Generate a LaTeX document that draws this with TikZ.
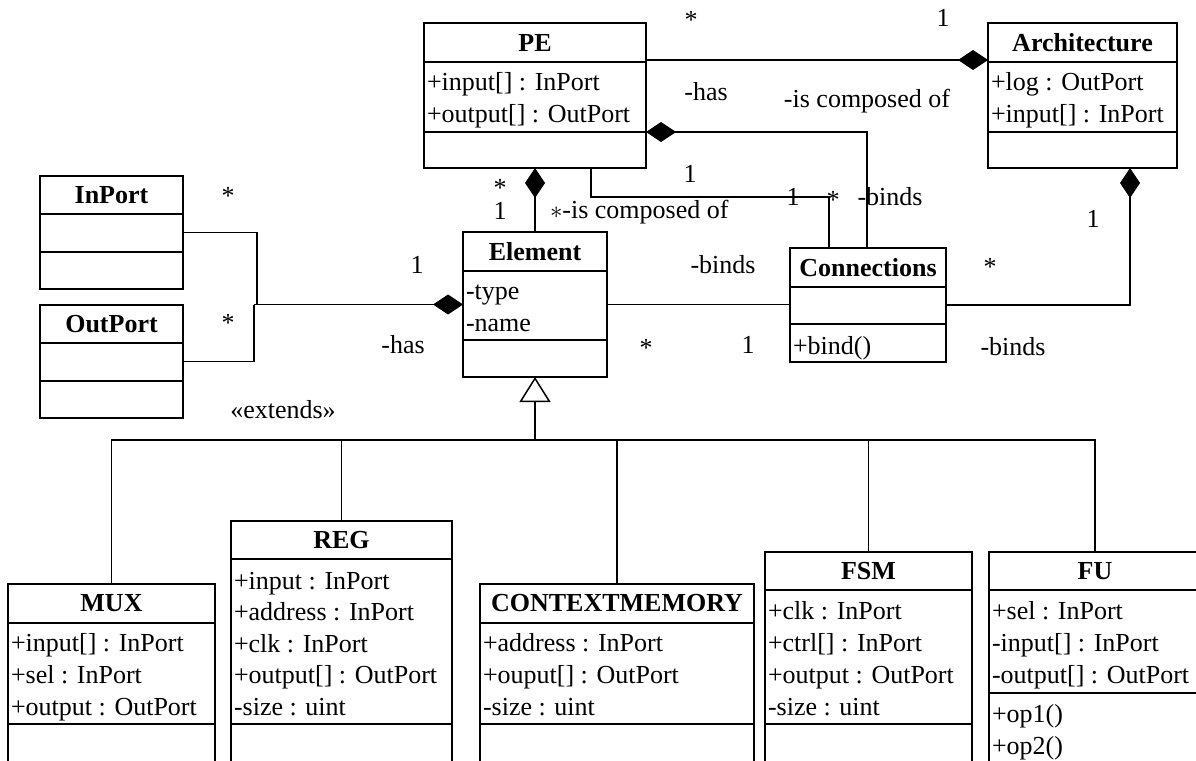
\documentclass[tikz,border=0pt]{standalone}
\usepackage{fontspec}
\setmainfont{Liberation Serif}
\usetikzlibrary{arrows.meta}

% class box: name, x, y, width, height, title divider, member divider, title
\newcommand\umlclass[8]{%
  \node[classbox, minimum width=#4pt, minimum height=#5pt] (#1) at (#2,#3) {};
  \draw[divider] (#1.north west) ++(0,#6) -- ++(#4,0);
  \draw[divider] (#1.north west) ++(0,#7) -- ++(#4,0);
  \path (#1.north) ++(0,#6/2) node[classtitle] {#8};
}
% list of members: x, first baseline, line spacing, entries
\newcommand\umlmembers[4]{%
  \foreach \m [count=\i from 0] in {#4} {\node[member] at (#1,#2+\i*#3) {\m};}
}

\begin{document}
\begin{tikzpicture}[x=1pt,y=-1pt,
  every node/.style={font=\fontsize{26}{32}\selectfont, inner sep=0pt, outer sep=0pt},
  classbox/.style={draw, line width=1.6pt, anchor=north west},
  divider/.style={line width=1.6pt},
  classtitle/.style={font=\fontsize{26}{32}\selectfont\bfseries},
  member/.style={anchor=base west},
  lbl/.style={anchor=base},
  assoc/.style={line width=1.1pt},
  comp/.style={assoc, -{Diamond[length=30pt,width=20pt]}},
  inherit/.style={assoc, -{Triangle[open,length=25pt,width=31pt,line width=1.5pt]}},
]
\useasboundingbox (0,0) rectangle (1196,760);
\clip (0,0) rectangle (1196,760);

% ---- classes ----
\umlclass{PE}{424}{23}{222}{145}{39}{109}{PE}
\umlmembers{427}{90}{32}{+input[] : InPort, +output[] : OutPort}

\umlclass{arch}{988}{23}{189}{145}{39}{109}{Architecture}
\umlmembers{991}{90}{32}{+log : OutPort, +input[] : InPort}

\umlclass{inport}{40}{176}{143}{113}{38}{76}{InPort}
\umlclass{outport}{40}{305}{143}{113}{38}{76}{OutPort}

\umlclass{element}{463}{232}{144}{145}{39}{108}{Element}
\umlmembers{466}{299}{32}{-type, -name}

\umlclass{conn}{790}{248}{156}{114}{39}{76}{Connections}
\umlmembers{793}{354}{32}{+bind()}

\umlclass{mux}{8}{584}{207}{220}{39}{140}{MUX}
\umlmembers{11}{651}{32}{+input[] : InPort, +sel : InPort, +output : OutPort}

\umlclass{reg}{231}{521}{221}{280}{38}{203}{REG}
\umlmembers{234}{589}{31.5}{+input : InPort, +address : InPort, +clk : InPort, +output[] : OutPort, -size : uint}

\umlclass{ctxmem}{480}{584}{274}{220}{39}{140}{CONTEXTMEMORY}
\umlmembers{483}{651}{32}{+address : InPort, +ouput[] : OutPort, -size : uint}

\umlclass{fsm}{765}{552}{207}{250}{38}{172}{FSM}
\umlmembers{768}{619}{32}{+clk : InPort, +ctrl[] : InPort, +output : OutPort, -size : uint}

\umlclass{fu}{989}{552}{212}{250}{38}{141}{FU}
\umlmembers{992}{619}{32}{+sel : InPort, -input[] : InPort, -output[] : OutPort}
\umlmembers{992}{722}{32}{+op1(), +op2()}

% ---- connector end points ----
\coordinate (peA)   at (646,60);
\coordinate (peC)   at (646,132);
\coordinate (peB)   at (591,168);
\coordinate (connA) at (867,248);
\coordinate (connB) at (829,248);
\coordinate (archB) at (1130,168);
\coordinate (hasIn)  at (257,304.5);
\coordinate (hasOut) at (254,304.5);
\coordinate (tree)  at (535,440);

% ---- compositions and associations ----
\draw[comp] (peA) -- (arch.west |- peA);
\draw[comp] (connA) |- (peC);
\draw[assoc] (peB) -- ++(0,29) -| (connB);
\draw[comp] (element.north) -- (PE.south);
\draw[assoc] (inport.east) -| (hasIn);
\draw[assoc] (outport.east) -| (hasOut);
\draw[comp] (hasOut) -- (element.west);
\draw[assoc] (element.east) -- (conn.west |- element.east);
\draw[comp] (conn.east) -| (archB);

% ---- generalisation tree ----
\draw[inherit] (tree) -- (element.south);
\draw[assoc] (mux.north) -- (mux.north |- tree) -- (fu.north |- tree) -- (fu.north);
\draw[assoc] (reg.north) -- (reg.north |- tree);
\draw[assoc] (ctxmem.north) -- (ctxmem.north |- tree);
\draw[assoc] (fsm.north) -- (fsm.north |- tree);

% ---- multiplicities and role names ----
\node[lbl] (m1) at (691,29) {*};
\node[lbl] (m2) at (943,27) {1};
\node[lbl] (r1) at (706,100) {-has};
\node[lbl] (r2) at (867,107) {-is composed of};
\node[lbl] (m3) at (690,182) {1};
\node[lbl] (m4) at (793,205) {1};
\node[lbl] (m5) at (833,208) {*};
\node[lbl] (r3) at (890,205) {-binds};
\node[align=center, font=\fontsize{26}{23}\selectfont] (m6) at (500,199.6) {*\\1};
\node[anchor=base west] (r4) at (550,218) {$\ast$-is composed of};
\node[lbl] (m8) at (1093,227) {1};
\node[lbl] (m9) at (228,204) {*};
\node[lbl] (m10) at (228,331) {*};
\node[lbl] (m11) at (417,273) {1};
\node[lbl] (r5) at (403,353) {-has};
\node[lbl] (r6) at (723,273) {-binds};
\node[lbl] (m12) at (646,356) {*};
\node[lbl] (m13) at (748,353) {1};
\node[lbl] (m14) at (990,275) {*};
\node[lbl] (r7) at (1013,355) {-binds};
\node[lbl] (st) at (283,418) {«extends»};
\end{tikzpicture}
\end{document}
